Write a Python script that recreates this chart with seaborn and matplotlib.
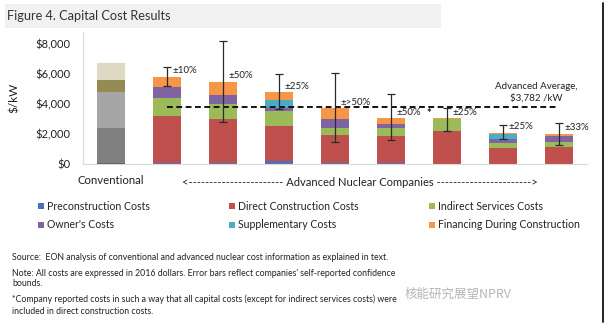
import matplotlib
matplotlib.use("Agg")
import matplotlib.pyplot as plt
from matplotlib.patches import Rectangle
from matplotlib.lines import Line2D
import matplotlib.transforms as mtransforms
import seaborn as sns
import pandas as pd
import numpy as np

# ---- data (2016 $/kW) ----
categories = ["Conventional", "Company 1", "Company 2", "Company 3", "Company 4",
              "Company 5", "Company 6", "Company 7", "Company 8"]
components = ["Preconstruction Costs", "Direct Construction Costs", "Indirect Services Costs",
              "Owner's Costs", "Supplementary Costs", "Financing During Construction"]
preconstruction = [50, 100, 80, 200, 50, 50, 0, 30, 30]
direct_construction = [2330, 3120, 2900, 2360, 1880, 1820, 2190, 1010, 1080]
indirect_services = [2450, 1160, 1000, 970, 450, 510, 780, 380, 380]
owners = [750, 770, 640, 180, 600, 290, 0, 220, 380]
supplementary = [0, 0, 0, 560, 0, 0, 0, 370, 0]
financing = [1170, 670, 850, 510, 730, 370, 70, 80, 130]

# self-reported confidence bounds for the advanced companies
err_low = [5220, 2780, 3670, 1490, 1600, 2220, 1640, 1270]
err_high = [6450, 8220, 6000, 6040, 4640, 3710, 2600, 2710]
err_labels = ["±10%", "±50%", "±25%", "±>50%", "±50%", "±25%", "±25%", "±33%"]
footnoted = [False, False, False, False, False, True, False, False]

advanced_average = 3782

y_ticks = [0, 2000, 4000, 6000, 8000]
y_tick_labels = ["$0", "$2,000", "$4,000", "$6,000", "$8,000"]

segment_colors = ["#4F6FB5", "#C0504D", "#9BBB59", "#8064A2", "#4BACC6", "#F79646"]
conventional_colors = ["#5f5f5f", "#808080", "#a6a6a6", "#948a54", "#c8c8c8", "#ddd9c3"]

layers = [preconstruction, direct_construction, indirect_services, owners,
          supplementary, financing]
df = pd.DataFrame({"category": categories})
for name, vals in zip(components, layers):
    df[name] = vals

# ---- figure ----
sns.set_theme(style="white")
plt.rcParams["font.family"] = ["Lato", "DejaVu Sans"]

W, H = 609, 329
fig = plt.figure(figsize=(W / 100, H / 100), dpi=100)
fig.patch.set_facecolor("white")


def fx(x):
    return x / W


def fy(y):
    return 1 - y / H


ax = fig.add_axes([fx(83), fy(164), fx(587) - fx(83), fy(32) - fy(164)])

bottom = np.zeros(len(categories))
for name, seg_color, conv_color in zip(components, segment_colors, conventional_colors):
    sns.barplot(data=df, x="category", y=name, order=categories, bottom=bottom.copy(),
                color=seg_color, saturation=1, width=0.5, errorbar=None,
                linewidth=0, ax=ax)
    ax.containers[-1].patches[0].set_facecolor(conv_color)
    bottom += df[name].to_numpy()

totals = bottom
adv_x = np.arange(1, len(categories))
adv_totals = totals[1:]

ax.errorbar(adv_x, adv_totals,
            yerr=[adv_totals - np.array(err_low), np.array(err_high) - adv_totals],
            fmt="none", ecolor="#2a2a2a", elinewidth=0.9, capsize=3, capthick=0.9, zorder=5)

for xi, tot, lab in zip(adv_x, adv_totals, err_labels):
    ax.text(xi + 0.09, tot + 400, lab, ha="left", va="center", fontsize=7, color="#222222",
            zorder=6)

for xi, tot, flag in zip(adv_x, adv_totals, footnoted):
    if flag:
        ax.text(xi - 0.32, tot + 330, "*", ha="center", va="center", fontsize=8,
                fontweight="bold", color="#111111")

ax.hlines(advanced_average, adv_x[0], adv_x[-1], colors="#111111", linewidth=1.4,
          linestyles=(0, (3, 1.8)), zorder=4)
ax.annotate(f"Advanced Average,\n${advanced_average:,} /kW", xy=(7.6, advanced_average),
            xytext=(0, 3.5), textcoords="offset points", ha="center", va="bottom",
            fontsize=7, color="#222222", linespacing=1.35)

ax.set_xlim(-0.5, 8.5)
ax.set_ylim(0, 8800)
ax.set_yticks(y_ticks, y_tick_labels)
ax.tick_params(axis="y", length=0, pad=9, labelsize=8, labelcolor="#222222")
ax.tick_params(axis="x", length=0, labelbottom=False)
ax.set_xlabel("")
ax.set_ylabel("")
for side in ["top", "right"]:
    ax.spines[side].set_visible(False)
for side in ["left", "bottom"]:
    ax.spines[side].set_color("#d9d9d9")
    ax.spines[side].set_linewidth(0.8)

# category captions under the axis
trans = mtransforms.blended_transform_factory(ax.transData, fig.transFigure)
ax.text(0, fy(180), "Conventional", transform=trans, ha="center", va="center",
        fontsize=8.2, color="#222222")
ax.text(4.45, fy(182),
        "<" + "-" * 23 + " Advanced Nuclear Companies " + "-" * 23 + ">",
        transform=trans, ha="center", va="center", fontsize=8, color="#222222")

fig.text(fx(14), fy(98), "$/kW", rotation=90, ha="center", va="center", fontsize=8.5,
         color="#222222")

# title band
fig.add_artist(Rectangle((fx(5), fy(28)), fx(441) - fx(5), fy(4) - fy(28),
                         transform=fig.transFigure, facecolor="#f1f1f1", edgecolor="none",
                         zorder=0))
fig.text(fx(7), fy(16), "Figure 4. Capital Cost Results", ha="left", va="center",
         fontsize=9.2, color="#333333")

# legend
legend_x = [41, 232, 432]
legend_y = [206, 225]
for k, (name, color) in enumerate(zip(components, segment_colors)):
    lx = legend_x[k % 3]
    ly = legend_y[k // 3]
    fig.add_artist(Rectangle((fx(lx - 3), fy(ly + 3)), 6 / W, 6 / H,
                             transform=fig.transFigure, facecolor=color, edgecolor="none"))
    fig.text(fx(lx + 6), fy(ly), name, ha="left", va="center", fontsize=7.6,
             color="#222222")

# notes
notes = [
    (257, "Source:  EON analysis of conventional and advanced nuclear cost information as explained in text."),
    (273, "Note: All costs are expressed in 2016 dollars. Error bars reflect companies' self-reported confidence"),
    (284, "bounds."),
    (299, "*Company reported costs in such a way that all capital costs (except for indirect services costs) were"),
    (311, "included in direct construction costs."),
]
for ny, txt in notes:
    fig.text(fx(12), fy(ny), txt, ha="left", va="center", fontsize=6.3, color="#222222")

fig.text(fx(405), fy(294), "核能研究展望NPRV", ha="left", va="center", fontsize=9,
         color="#b5b5b5", family=["Noto Sans CJK SC", "DejaVu Sans"])

fig.add_artist(Line2D([fx(603), fx(603)], [fy(3), fy(322)], transform=fig.transFigure,
                      color="#111111", linewidth=1.3))

fig.savefig("out.png", dpi=100)
